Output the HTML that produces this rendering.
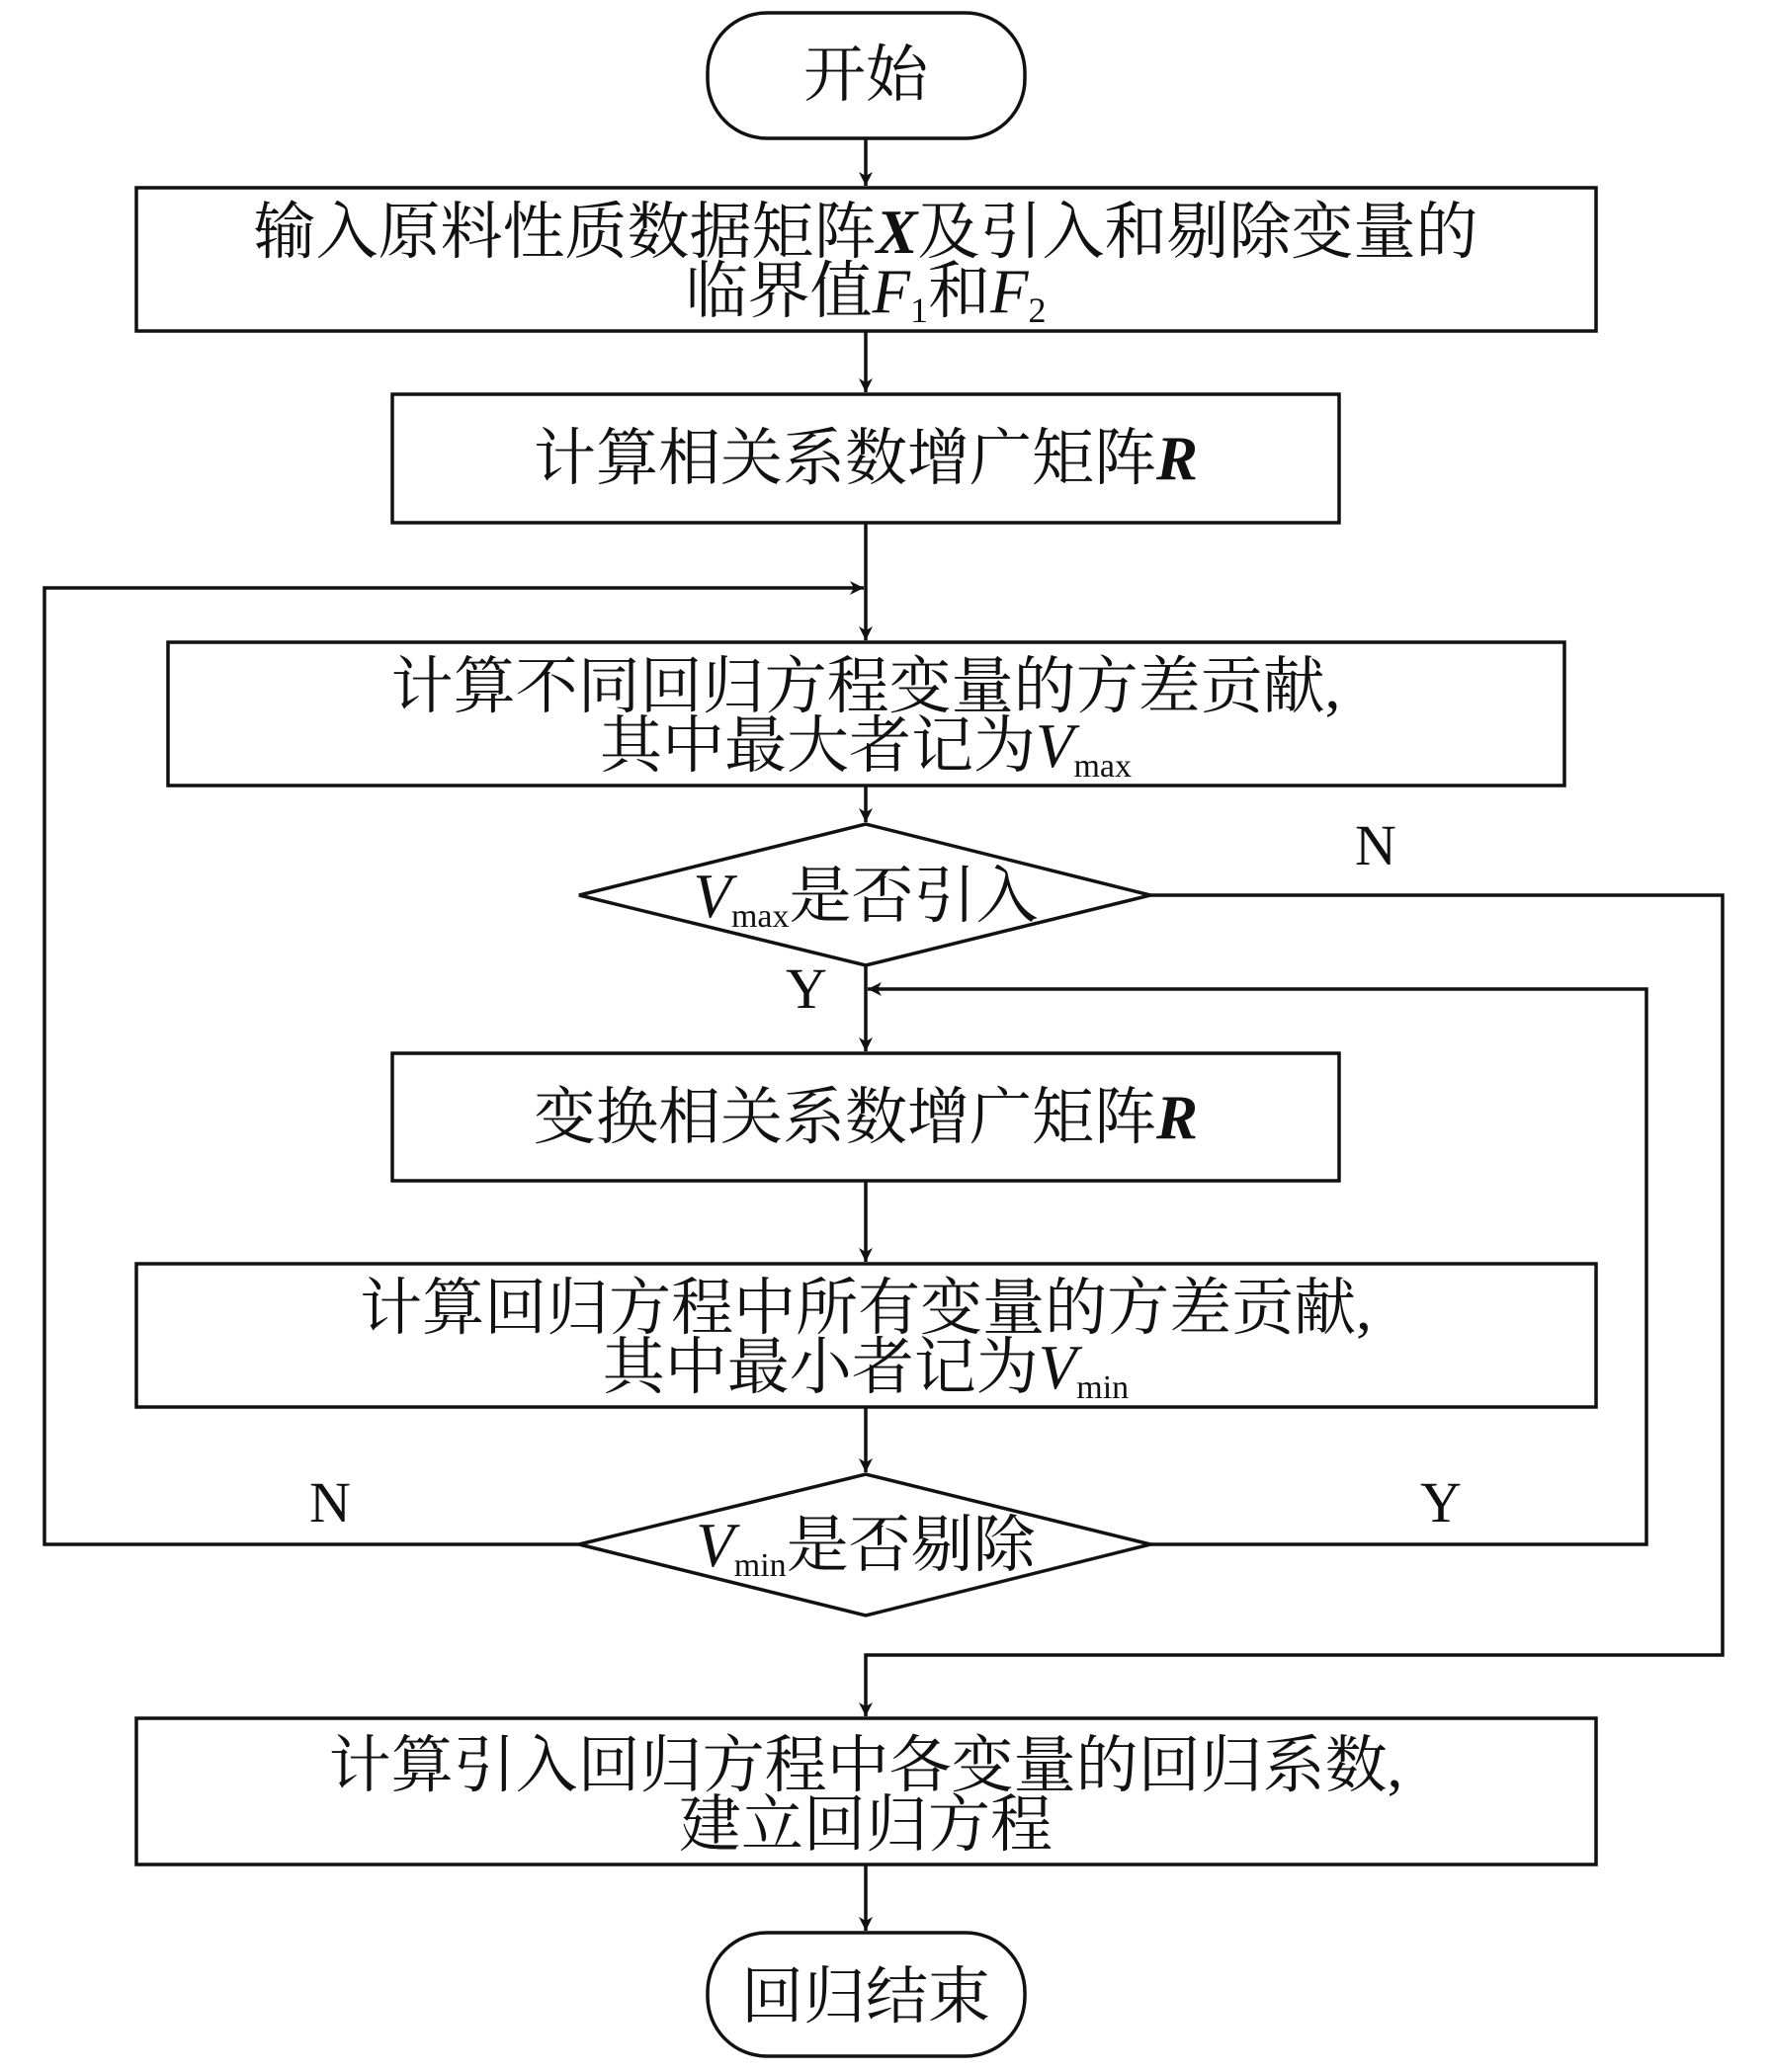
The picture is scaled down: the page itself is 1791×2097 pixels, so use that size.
<!DOCTYPE html>
<html><head><meta charset="utf-8"><style>
html,body{margin:0;padding:0;background:#fff}
svg{display:block}
text{font-family:"Liberation Serif","Noto Serif CJK SC",serif;font-size:63px;fill:#111}
.l{font-family:"Liberation Serif",serif;font-size:58px}
</style></head><body>
<svg width="1791" height="2097" viewBox="0 0 1791 2097" xmlns="http://www.w3.org/2000/svg">
<defs><marker id="a" markerWidth="16" markerHeight="16" refX="14" refY="7" orient="auto" markerUnits="userSpaceOnUse"><path d="M0,0 L14,7 L0,14 L4,7 Z" fill="#111"/></marker></defs>
<g stroke="#111" stroke-width="3.5" fill="#fff">
<rect x="716" y="13" width="321" height="127" rx="60" ry="60"/>
<rect x="138" y="190" width="1477" height="145"/>
<rect x="397" y="399" width="958" height="130"/>
<rect x="170" y="650" width="1413" height="145"/>
<polygon points="586,906 876,834 1164,906 876,977"/>
<rect x="397" y="1066" width="958" height="129"/>
<rect x="138" y="1279" width="1477" height="145"/>
<polygon points="586,1563 876,1492 1164,1563 876,1635"/>
<rect x="138" y="1739" width="1477" height="148"/>
<rect x="716" y="1956" width="321" height="125" rx="60" ry="60"/>
</g>
<g stroke="#111" stroke-width="3.5" fill="none" marker-end="url(#a)">
<line x1="876" y1="140" x2="876" y2="188"/>
<line x1="876" y1="335" x2="876" y2="397"/>
<line x1="876" y1="529" x2="876" y2="648"/>
<line x1="876" y1="795" x2="876" y2="832"/>
<line x1="876" y1="977" x2="876" y2="1064"/>
<line x1="876" y1="1195" x2="876" y2="1277"/>
<line x1="876" y1="1424" x2="876" y2="1490"/>
<line x1="876" y1="1887" x2="876" y2="1954"/>
<polyline points="586,1563 45,1563 45,595 874,595"/>
<polyline points="1164,1563 1666,1563 1666,1001 878,1001"/>
<polyline points="1164,906 1743,906 1743,1675 876,1675 876,1737"/>
</g>
<g text-anchor="middle">
<text x="876" y="97">开始</text>
<text x="876" y="256">输入原料性质数据矩阵<tspan font-style="italic" font-weight="bold">X</tspan>及引入和剔除变量的</text>
<text x="876" y="316">临界值<tspan font-style="italic">F</tspan><tspan font-size="36" dy="10">1</tspan><tspan dy="-10">和</tspan><tspan font-style="italic">F</tspan><tspan font-size="36" dy="10">2</tspan></text>
<text x="876" y="485">计算相关系数增广矩阵<tspan font-style="italic" font-weight="bold">R</tspan></text>
<text x="876" y="716">计算不同回归方程变量的方差贡献,</text>
<text x="876" y="776">其中最大者记为<tspan font-style="italic">V</tspan><tspan font-size="34" dy="10">max</tspan></text>
<text x="876" y="928"><tspan font-style="italic">V</tspan><tspan font-size="34" dy="10">max</tspan><tspan dy="-10">是否引入</tspan></text>
<text x="876" y="1152">变换相关系数增广矩阵<tspan font-style="italic" font-weight="bold">R</tspan></text>
<text x="876" y="1345">计算回归方程中所有变量的方差贡献,</text>
<text x="876" y="1405">其中最小者记为<tspan font-style="italic">V</tspan><tspan font-size="34" dy="10">min</tspan></text>
<text x="876" y="1585"><tspan font-style="italic">V</tspan><tspan font-size="34" dy="10">min</tspan><tspan dy="-10">是否剔除</tspan></text>
<text x="876" y="1808">计算引入回归方程中各变量的回归系数,</text>
<text x="876" y="1868">建立回归方程</text>
<text x="876" y="2042">回归结束</text>
<text class="l" x="1392" y="875">N</text>
<text class="l" x="816" y="1020">Y</text>
<text class="l" x="334" y="1540">N</text>
<text class="l" x="1458" y="1540">Y</text>
</g>
</svg>
</body></html>
